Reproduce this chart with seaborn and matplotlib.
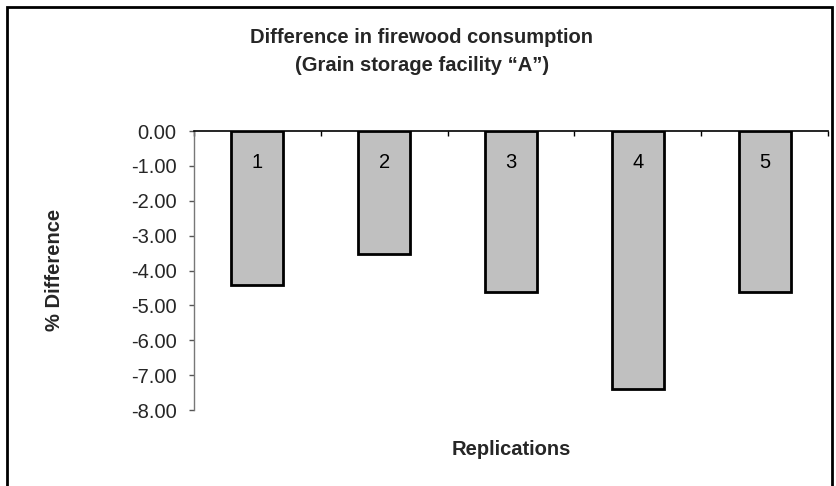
import matplotlib
matplotlib.use("Agg")
import matplotlib.pyplot as plt
import seaborn as sns
import pandas as pd
from matplotlib.patches import Rectangle

replications = ["1", "2", "3", "4", "5"]
pct_difference = [-4.43, -3.52, -4.62, -7.40, -4.62]
y_ticks = [0, -1, -2, -3, -4, -5, -6, -7, -8]

sns.set_theme(style="white")
plt.rcParams["font.family"] = ["Liberation Sans", "DejaVu Sans"]

df = pd.DataFrame({"Replication": replications, "Difference": pct_difference})

fig = plt.figure(figsize=(8.37, 4.86), dpi=100)
ax = fig.add_axes([194 / 837, 1 - 410 / 486, 634 / 837, 279 / 486])

sns.barplot(data=df, x="Replication", y="Difference", color="#c0c0c0",
            edgecolor="black", linewidth=2.0, width=0.41, saturation=1, ax=ax)

ax.set_ylim(-8, 0)
ax.set_xlim(-0.5, len(replications) - 0.5)
ax.set_yticks(y_ticks)
ax.set_yticklabels([f"{v:.2f}" for v in y_ticks], fontsize=14.5)
ax.xaxis.tick_top()
ax.set_xticks([i - 0.5 for i in range(len(replications) + 1)])
ax.set_xticklabels([])
ax.tick_params(axis="x", direction="in", length=3.6, width=1, color="black", top=True, bottom=False)
ax.tick_params(axis="y", direction="out", length=3.6, width=1, color="#555555", left=True, pad=9)

for s in ["right", "bottom"]:
    ax.spines[s].set_visible(False)
ax.spines["top"].set_color("black")
ax.spines["top"].set_linewidth(1.2)
ax.spines["left"].set_color("#777777")
ax.spines["left"].set_linewidth(1.0)

for i, lab in enumerate(replications):
    ax.text(i, -0.9, lab, ha="center", va="center", fontsize=14.5, color="black")

ax.set_xlabel("")
ax.set_ylabel("")
fig.text(0.0657, 0.4444, "% Difference", rotation=90, ha="center", va="center",
         fontsize=14.5, fontweight="bold")
fig.text(0.6105, 1 - 455 / 486, "Replications", ha="center", va="baseline",
         fontsize=14.5, fontweight="bold")
fig.text(0.504, 1 - 43 / 486, "Difference in firewood consumption", ha="center", va="baseline",
         fontsize=14.5, fontweight="bold")
fig.text(0.504, 1 - 71 / 486, "(Grain storage facility \u201cA\u201d)", ha="center", va="baseline",
         fontsize=14.5, fontweight="bold")

fig.patches.append(Rectangle((7 / 837, -0.1), (832 - 7) / 837, 1.1 - 7 / 486,
                             transform=fig.transFigure, fill=False,
                             edgecolor="black", linewidth=2.0, zorder=10))

fig.savefig("out.png", dpi=100)
